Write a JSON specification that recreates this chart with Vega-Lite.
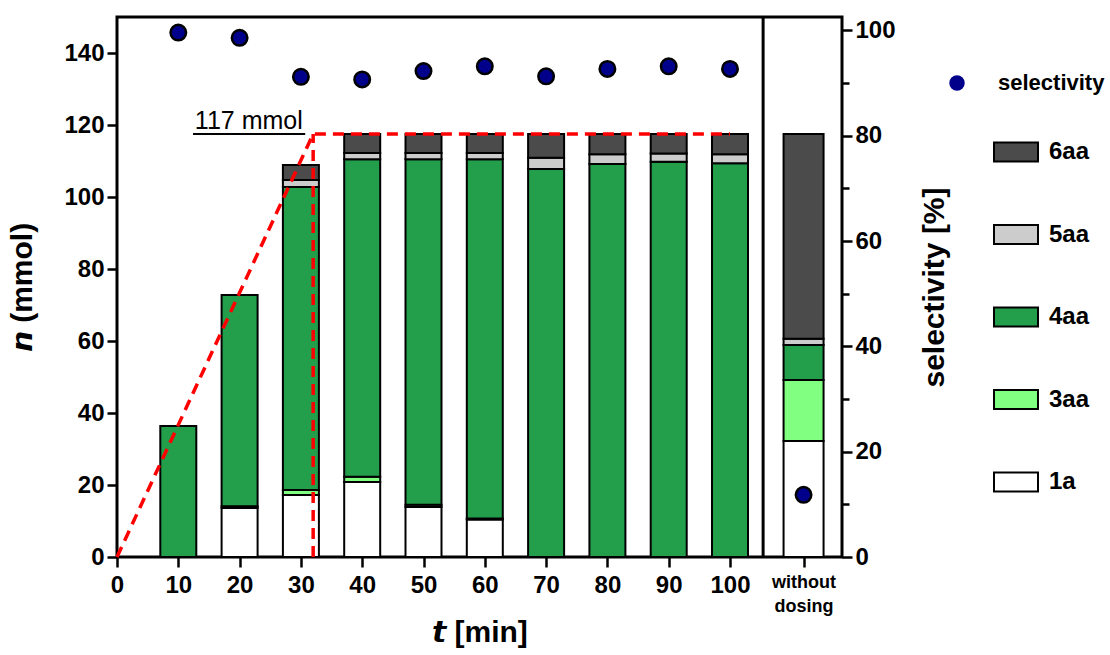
{
  "$schema": "https://vega.github.io/schema/vega-lite/v6.json",
  "width": 725,
  "height": 540,
  "autosize": {"type": "none"},
  "padding": {"left": 117, "top": 17, "right": 268, "bottom": 98},
  "background": "white",
  "config": {
    "font": "Liberation Sans",
    "view": {"stroke": "black", "strokeWidth": 3},
    "axis": {
      "labelFont": "Liberation Sans", "labelFontWeight": "bold", "labelFontSize": 24, "labelColor": "black",
      "titleFont": "Liberation Sans", "titleFontWeight": "bold", "titleFontSize": 30, "titleColor": "black",
      "tickColor": "black", "tickWidth": 2.5, "domain": false, "grid": false
    },
    "legend": {
      "labelFont": "Liberation Sans", "labelFontWeight": "bold", "labelFontSize": 24, "labelColor": "black",
      "padding": 0
    }
  },
  "datasets": {
    "bars": [
      {"t": 10, "c": "4aa", "n": 36.4},
      {"t": 20, "c": "1a", "n": 13.6}, {"t": 20, "c": "3aa", "n": 0.5}, {"t": 20, "c": "4aa", "n": 58.7},
      {"t": 30, "c": "1a", "n": 17.2}, {"t": 30, "c": "3aa", "n": 1.4}, {"t": 30, "c": "4aa", "n": 84.2}, {"t": 30, "c": "5aa", "n": 1.9}, {"t": 30, "c": "6aa", "n": 4.2},
      {"t": 40, "c": "1a", "n": 20.8}, {"t": 40, "c": "3aa", "n": 1.5}, {"t": 40, "c": "4aa", "n": 88.2}, {"t": 40, "c": "5aa", "n": 1.7}, {"t": 40, "c": "6aa", "n": 5.3},
      {"t": 50, "c": "1a", "n": 13.9}, {"t": 50, "c": "3aa", "n": 0.6}, {"t": 50, "c": "4aa", "n": 96.0}, {"t": 50, "c": "5aa", "n": 1.7}, {"t": 50, "c": "6aa", "n": 5.3},
      {"t": 60, "c": "1a", "n": 10.4}, {"t": 60, "c": "3aa", "n": 0.3}, {"t": 60, "c": "4aa", "n": 99.8}, {"t": 60, "c": "5aa", "n": 1.7}, {"t": 60, "c": "6aa", "n": 5.3},
      {"t": 70, "c": "4aa", "n": 107.8}, {"t": 70, "c": "5aa", "n": 3.1}, {"t": 70, "c": "6aa", "n": 6.6},
      {"t": 80, "c": "4aa", "n": 109.2}, {"t": 80, "c": "5aa", "n": 2.7}, {"t": 80, "c": "6aa", "n": 5.6},
      {"t": 90, "c": "4aa", "n": 109.8}, {"t": 90, "c": "5aa", "n": 2.3}, {"t": 90, "c": "6aa", "n": 5.4},
      {"t": 100, "c": "4aa", "n": 109.4}, {"t": 100, "c": "5aa", "n": 2.5}, {"t": 100, "c": "6aa", "n": 5.6}
    ],
    "nodose": [
      {"t": 112, "c": "1a", "n": 32.2}, {"t": 112, "c": "3aa", "n": 17.0}, {"t": 112, "c": "4aa", "n": 9.7}, {"t": 112, "c": "5aa", "n": 1.7}, {"t": 112, "c": "6aa", "n": 56.9}
    ],
    "sel": [
      {"t": 10, "s": 99.6}, {"t": 20, "s": 98.6}, {"t": 30, "s": 91.2}, {"t": 40, "s": 90.7}, {"t": 50, "s": 92.3},
      {"t": 60, "s": 93.2}, {"t": 70, "s": 91.3}, {"t": 80, "s": 92.7}, {"t": 90, "s": 93.2}, {"t": 100, "s": 92.7},
      {"t": 112, "s": 11.8}
    ],
    "dose": [
      {"seg": "a", "o": 0, "t": 0, "n": 0}, {"seg": "a", "o": 1, "t": 32, "n": 117.5}, {"seg": "a", "o": 2, "t": 100, "n": 117.5},
      {"seg": "b", "o": 0, "t": 32, "n": 0}, {"seg": "b", "o": 1, "t": 32, "n": 117.5}
    ],
    "label": [{"t": 21.5, "n": 117.5, "t2": 30.7, "t1": 12.4, "txt": "117 mmol"}]
  },
  "layer": [
    {
      "layer": [
        {
          "data": {"name": "bars"},
          "mark": {"type": "bar", "width": 36, "stroke": "black", "strokeWidth": 2},
          "encoding": {
            "x": {
              "field": "t", "type": "quantitative",
              "scale": {"domain": [0, 118.27], "nice": false, "zero": false, "padding": 0},
              "axis": {
                "values": [0, 10, 20, 30, 40, 50, 60, 70, 80, 90, 100, 112],
                "labelExpr": "datum.value == 112 ? ['without', 'dosing'] : datum.label",
                "labelFontSize": {"condition": {"test": "datum.value == 112", "value": 18}, "value": 24},
                "labelLineHeight": 24,
                "labelFlush": false,
                "tickSize": 10,
                "labelPadding": 6,
                "title": "\uD835\uDE69 [min]",
                "titlePadding": 2
              }
            },
            "y": {
              "field": "n", "type": "quantitative",
              "scale": {"domain": [0, 150], "nice": false},
              "axis": {
                "orient": "left",
                "values": [0, 10, 20, 30, 40, 50, 60, 70, 80, 90, 100, 110, 120, 130, 140],
                "labelExpr": "datum.value % 20 == 0 ? datum.label : ''",
                "tickSize": {"condition": {"test": "datum.value % 20 == 0", "value": 10}, "value": 7},
                "labelPadding": 3,
                "title": "\uD835\uDE63 (mmol)",
                "titlePadding": 26
              }
            },
            "color": {
              "field": "c", "type": "nominal",
              "scale": {"domain": ["6aa", "5aa", "4aa", "3aa", "1a"], "range": ["#4B4B4B", "#CCCCCC", "#239E4B", "#80FF80", "#FFFFFF"]},
              "legend": {
                "title": null, "orient": "none", "legendX": 876, "legendY": 112,
                "symbolType": "M-1,-0.43H1V0.43H-1Z", "symbolSize": 1936,
                "symbolStrokeColor": "black", "symbolStrokeWidth": 2, "symbolOpacity": 1,
                "rowPadding": 45.5, "labelOffset": 10
              }
            },
            "order": {"field": "c", "type": "nominal", "sort": "ascending"}
          }
        },
        {
          "data": {"name": "nodose"},
          "mark": {"type": "bar", "width": 40, "stroke": "black", "strokeWidth": 2},
          "encoding": {
            "x": {"field": "t", "type": "quantitative"},
            "y": {"field": "n", "type": "quantitative"},
            "color": {"field": "c", "type": "nominal"},
            "order": {"field": "c", "type": "nominal", "sort": "ascending"}
          }
        },
        {
          "data": {"values": [{"d": 105.4}]},
          "mark": {"type": "rule", "color": "black", "strokeWidth": 3},
          "encoding": {"x": {"field": "d", "type": "quantitative"}}
        },
        {
          "data": {"name": "dose"},
          "mark": {"type": "line", "color": "#FF0000", "strokeWidth": 3.5, "strokeDash": [11, 7], "strokeJoin": "round"},
          "encoding": {
            "x": {"field": "t", "type": "quantitative"},
            "y": {"field": "n", "type": "quantitative"},
            "detail": {"field": "seg"},
            "order": {"field": "o"}
          }
        },
        {
          "data": {"name": "label"},
          "mark": {"type": "text", "fontSize": 25, "font": "Liberation Sans", "baseline": "alphabetic", "align": "center", "dy": -5, "color": "black"},
          "encoding": {
            "x": {"field": "t", "type": "quantitative"},
            "y": {"field": "n", "type": "quantitative"},
            "text": {"field": "txt"}
          }
        },
        {
          "data": {"name": "label"},
          "mark": {"type": "rule", "color": "black", "strokeWidth": 2},
          "encoding": {
            "x": {"field": "t1", "type": "quantitative"},
            "x2": {"field": "t2"},
            "y": {"field": "n", "type": "quantitative"}
          }
        }
      ]
    },
    {
      "data": {"name": "sel"},
      "mark": {"type": "point", "filled": true, "fill": "#00008B", "stroke": "black", "strokeWidth": 2.5, "size": 240, "opacity": 1},
      "encoding": {
        "x": {"field": "t", "type": "quantitative"},
        "y": {
          "field": "s", "type": "quantitative",
          "scale": {"domain": [0, 102.56], "nice": false},
          "axis": {
            "orient": "right",
            "values": [0, 10, 20, 30, 40, 50, 60, 70, 80, 90, 100],
            "labelExpr": "datum.value % 20 == 0 ? datum.label : ''",
            "tickSize": {"condition": {"test": "datum.value % 20 == 0", "value": 10}, "value": 7},
            "labelPadding": 3,
            "title": "selectivity [%]",
            "titleAngle": 270,
            "titlePadding": 54
          }
        },
        "shape": {
          "datum": "selectivity", "type": "nominal",
          "scale": {"domain": ["selectivity"], "range": ["circle"]},
          "legend": {
            "title": null, "orient": "none", "legendX": 829, "legendY": 55,
            "symbolSize": 240, "symbolFillColor": "#00008B", "symbolStrokeColor": "black", "symbolStrokeWidth": 2.5,
            "labelOffset": 30, "labelFontSize": 22
          }
        }
      }
    }
  ],
  "resolve": {"scale": {"y": "independent"}}
}
